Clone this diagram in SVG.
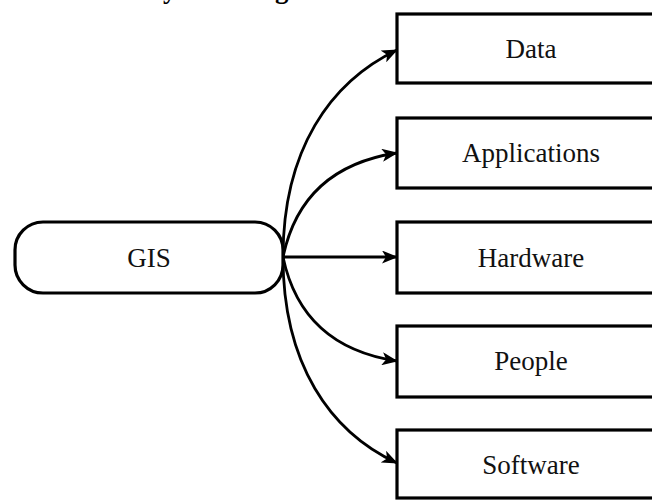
<svg xmlns="http://www.w3.org/2000/svg" width="652" height="500" viewBox="0 0 652 500">
  <defs>
    <marker id="arr" viewBox="0 0 16 13" refX="15" refY="6.5" markerWidth="16" markerHeight="13" markerUnits="userSpaceOnUse" orient="auto">
      <path d="M0,0 L16,6.5 L0,13 L4,6.5 z" fill="#000"/>
    </marker>
  </defs>
  <style>
    .box { fill: #fff; stroke: #000; stroke-width: 3.2; }
    .lbl { font-family: "Liberation Serif", "Times New Roman", serif; font-size: 27px; fill: #111; text-anchor: middle; }
    .ttl { font-family: "Liberation Serif", "Times New Roman", serif; font-size: 27px; font-weight: bold; fill: #000; }
    .conn { fill: none; stroke: #000; stroke-width: 2.8; marker-end: url(#arr); }
  </style>
  <rect width="652" height="500" fill="#fff"/>
  <text class="ttl" x="163" y="-2">y</text>
  <text class="ttl" x="275" y="-2">g</text>
  <g id="connectors">
    <path class="conn" d="M283,257 C283,150 330,82 397,50"/>
    <path class="conn" d="M283,257 C295,200 330,163 397,153"/>
    <path class="conn" d="M283,257 L397,257"/>
    <path class="conn" d="M283,257 C295,314 330,351 397,361"/>
    <path class="conn" d="M283,257 C283,364 330,432 397,463"/>
  </g>
  <g id="gis">
    <rect class="box" x="15" y="222" width="268" height="71" rx="28"/>
    <text class="lbl" x="149" y="266.5">GIS</text>
  </g>
  <g id="data">
    <rect class="box" x="397" y="14" width="268" height="69"/>
    <text class="lbl" x="531" y="58">Data</text>
  </g>
  <g id="applications">
    <rect class="box" x="397" y="118" width="268" height="70"/>
    <text class="lbl" x="531" y="162">Applications</text>
  </g>
  <g id="hardware">
    <rect class="box" x="397" y="222" width="268" height="71"/>
    <text class="lbl" x="531" y="266.5">Hardware</text>
  </g>
  <g id="people">
    <rect class="box" x="397" y="326" width="268" height="71"/>
    <text class="lbl" x="531" y="370">People</text>
  </g>
  <g id="software">
    <rect class="box" x="397" y="430" width="268" height="68"/>
    <text class="lbl" x="531" y="474">Software</text>
  </g>
</svg>
